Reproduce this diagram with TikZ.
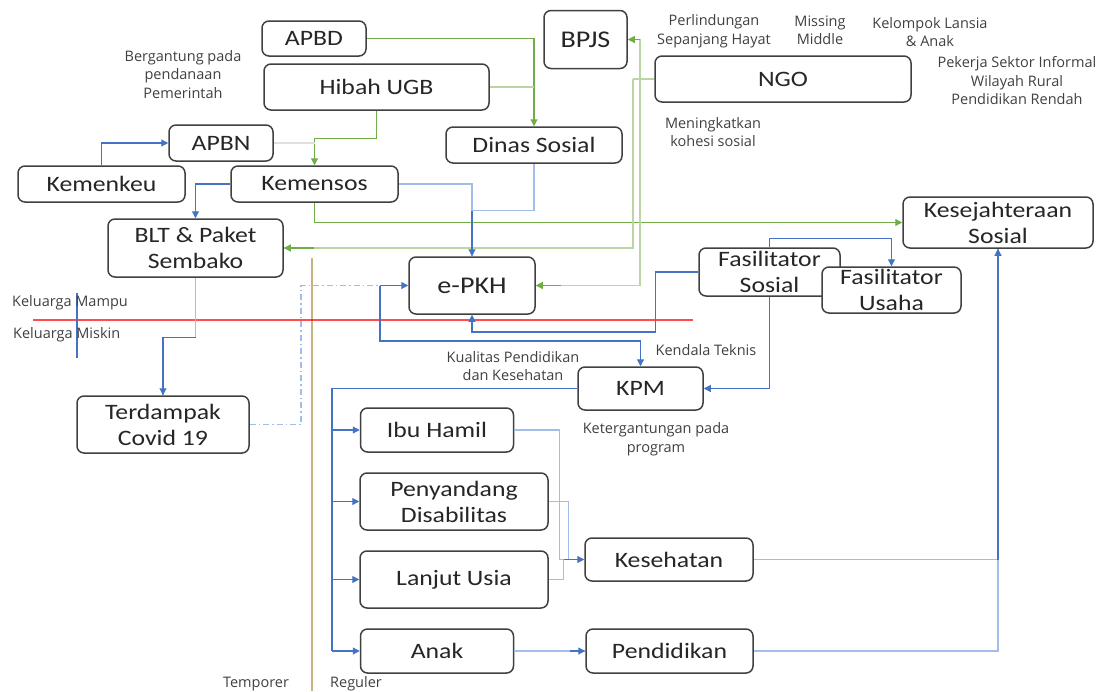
\documentclass[tikz,border=0pt]{standalone}
\usepackage{fontspec}
\setmainfont{Carlito}[FakeStretch=1.17]
\newfontfamily\lblfont{Open Sans}
\usetikzlibrary{arrows.meta}
\definecolor{bblue}{HTML}{4472C4}
\definecolor{lblue}{HTML}{A3BDE9}
\definecolor{ggreen}{HTML}{70AD47}
\definecolor{lgreen}{HTML}{B9D6A4}
\definecolor{tanc}{HTML}{C8B185}
\definecolor{boxc}{HTML}{404040}
\definecolor{txtc}{HTML}{404040}
\definecolor{boxtxt}{HTML}{262626}
\begin{document}
\begin{tikzpicture}[x=1pt,y=-1pt,
  box/.style={draw=boxc, line width=1.5pt, rounded corners=7pt, fill=white, align=center, inner sep=0pt, font=\fontsize{22}{26}\selectfont, text=boxtxt},
  lbl/.style={align=center, inner sep=0pt, font=\lblfont\fontsize{14.5}{18.5}\selectfont, text=txtc},
  cn/.style={line width=1.1pt},
  arrowed/.style={-{Triangle[length=7pt,width=7pt]}},
  bl/.style={cn, draw=bblue},
  lb/.style={cn, draw=lblue},
  gr/.style={cn, draw=ggreen},
  lg/.style={cn, draw=lgreen}]
\useasboundingbox (0,0) rectangle (1106,691);

% decorative lines
\draw[tanc, line width=1.4pt] (312,258) -- (312,691);
\draw[red, opacity=0.7, line width=1.3pt] (33,320) -- (693,320);
\draw[bblue, line width=1.2pt] (77,293) -- (77,358);

% boxes
\node[box, minimum width=104, minimum height=35] (apbd) at (314,38.5) {APBD};
\node[box, minimum width=225, minimum height=46] (hibah) at (376.5,87) {Hibah UGB};
\node[box, minimum width=83, minimum height=58, font=\fontsize{24}{28}\selectfont] (bpjs) at (585.5,39.5) {BPJS};
\node[box, minimum width=256, minimum height=46] (ngo) at (783,79) {NGO};
\node[box, minimum width=176, minimum height=36] (dinas) at (534,145) {Dinas Sosial};
\node[box, minimum width=104, minimum height=36] (apbn) at (221,143) {APBN};
\node[box, minimum width=167, minimum height=36] (kemenkeu) at (101.5,184) {Kemenkeu};
\node[box, minimum width=167, minimum height=36] (kemensos) at (314.5,184) {Kemensos};
\node[box, minimum width=175, minimum height=58] (blt) at (195.5,248) {BLT \& Paket\\Sembako};
\node[box, minimum width=190, minimum height=51] (kes) at (998,222.5) {Kesejahteraan\\Sosial};
\node[box, minimum width=126, minimum height=57, font=\fontsize{24}{28}\selectfont] (epkh) at (472,285.5) {e-PKH};
\node[box, minimum width=141, minimum height=48] (fsos) at (769.5,272) {Fasilitator\\Sosial};
\node[box, minimum width=139, minimum height=46] (fusaha) at (891.5,290) {Fasilitator\\Usaha};
\node[box, minimum width=125, minimum height=43] (kpm) at (640.5,388.5) {KPM};
\node[box, minimum width=172, minimum height=57] (covid) at (163,424.5) {Terdampak\\Covid 19};
\node[box, minimum width=153, minimum height=44] (ibu) at (437,430) {Ibu Hamil};
\node[box, minimum width=188, minimum height=57] (peny) at (454,501.5) {Penyandang\\Disabilitas};
\node[box, minimum width=188, minimum height=57] (lansia) at (454,579.5) {Lanjut Usia};
\node[box, minimum width=168, minimum height=43] (ksh) at (669,559.5) {Kesehatan};
\node[box, minimum width=153, minimum height=44] (anak) at (437,651) {Anak};
\node[box, minimum width=167, minimum height=44] (pend) at (669.5,651) {Pendidikan};

% labels
\node[lbl] (l1) at (183,74.5) {Bergantung pada\\pendanaan\\Pemerintah};
\node[lbl] (l2) at (714,31) {Perlindungan\\Sepanjang Hayat};
\node[lbl] (l3) at (820,30) {Missing\\Middle};
\node[lbl] (l4) at (930,32) {Kelompok Lansia\\\& Anak};
\node[lbl] (l5) at (1017,81) {Pekerja Sektor Informal\\Wilayah Rural\\Pendidikan Rendah};
\node[lbl] (l6) at (713,132) {Meningkatkan\\kohesi sosial};
\node[lbl, anchor=west] (l7) at (12,303) {Keluarga Mampu};
\node[lbl, anchor=west] (l8) at (13,335) {Keluarga Miskin};
\node[lbl] (l9) at (513,366) {Kualitas Pendidikan\\dan Kesehatan};
\node[lbl] (l10) at (706,350) {Kendala Teknis};
\node[lbl] (l11) at (656,439) {Ketergantungan pada\\program};
\node[lbl] (l12) at (256,684) {Temporer};
\node[lbl] (l13) at (356,684) {Reguler};

% coordinates
\coordinate (n1) at (633,79);
\coordinate (n2) at (640,79);
\coordinate (t1) at (380,285.5);
\coordinate (d1) at (301,0);
\coordinate (k1) at (332,651);

% green connectors
\draw[gr, arrowed] (apbd.east) -| (dinas.north);
\draw[lg] (hibah.east) -- (hibah.east -| dinas.north);
\draw[gr, arrowed] (hibah.south) -- ++(0,28) -| (kemensos.north);
\draw[cn, draw=black!12] (apbn.east) -- (apbn.east -| kemensos.north);
\draw[gr, arrowed] (kemensos.south) |- (kes.west);
\draw[lg] (ngo.west) -- (n1);
\draw[lg] (n1) |- (blt.east);
\draw[gr, arrowed] (blt.east) ++(30,0) -- (blt.east);
\draw[lg] (n2) |- (bpjs.east);
\draw[gr, arrowed] (n2 |- bpjs.east) -- (bpjs.east);
\draw[lg] (n2) |- (epkh.east);
\draw[gr, arrowed] (epkh.east) ++(25,0) -- (epkh.east);

% blue connectors
\draw[bl, arrowed] (kemenkeu.north) |- (apbn.west);
\draw[bl, arrowed] (kemensos.west) -| (blt.north);
\draw[lb] (kemensos.east) -| (epkh.north);
\draw[lb] (dinas.south) -- ++(0,47) -| (epkh.north);
\draw[bl, arrowed] (epkh.north |- dinas.south) ++(0,47) -- (epkh.north);
\draw[lb] (blt.south) -- ++(0,60) -| (covid.north);
\draw[bl, arrowed] (blt.south) ++(0,60) -| (covid.north);
\draw[lb, dash pattern=on 6pt off 3pt on 1.5pt off 3pt] (covid.east) -| (d1 |- t1) -- (t1);
\draw[bl, arrowed] (t1) -- (epkh.west);
\draw[bl, arrowed] (t1) -- ++(0,55.5) -| (kpm.north);
\draw[bl, arrowed] (fsos.west) -- ++(-43,0) -- ++(0,60) -| (epkh.south);
\draw[bl, arrowed] (fsos.south) |- (kpm.east);
\draw[bl, arrowed] (fsos.north) -- ++(0,-9) -| (fusaha.north);
\draw[bl] (kpm.west) -| (k1);
\draw[bl, arrowed] (k1 |- ibu.west) -- (ibu.west);
\draw[bl, arrowed] (k1 |- peny.west) -- (peny.west);
\draw[bl, arrowed] (k1 |- lansia.west) -- (lansia.west);
\draw[bl, arrowed] (k1) -- (anak.west);
\draw[lb] (ibu.east) -- ++(45,0) |- (ksh.west);
\draw[lb] (peny.east) -- ++(20,0) |- (ksh.west);
\draw[lb] (lansia.east) -- ++(15,0) |- (ksh.west);
\draw[bl, arrowed] (ksh.west) ++(-20,0) -- (ksh.west);
\draw[lb] (anak.east) -- (pend.west);
\draw[bl, arrowed] (pend.west) ++(-15,0) -- (pend.west);
\draw[lb] (ksh.east) -- (ksh.east -| kes.south);
\draw[lb] (pend.east) -| (kes.south);
\draw[bl, arrowed] (ksh.east -| kes.south) -- (kes.south);
\end{tikzpicture}
\end{document}
